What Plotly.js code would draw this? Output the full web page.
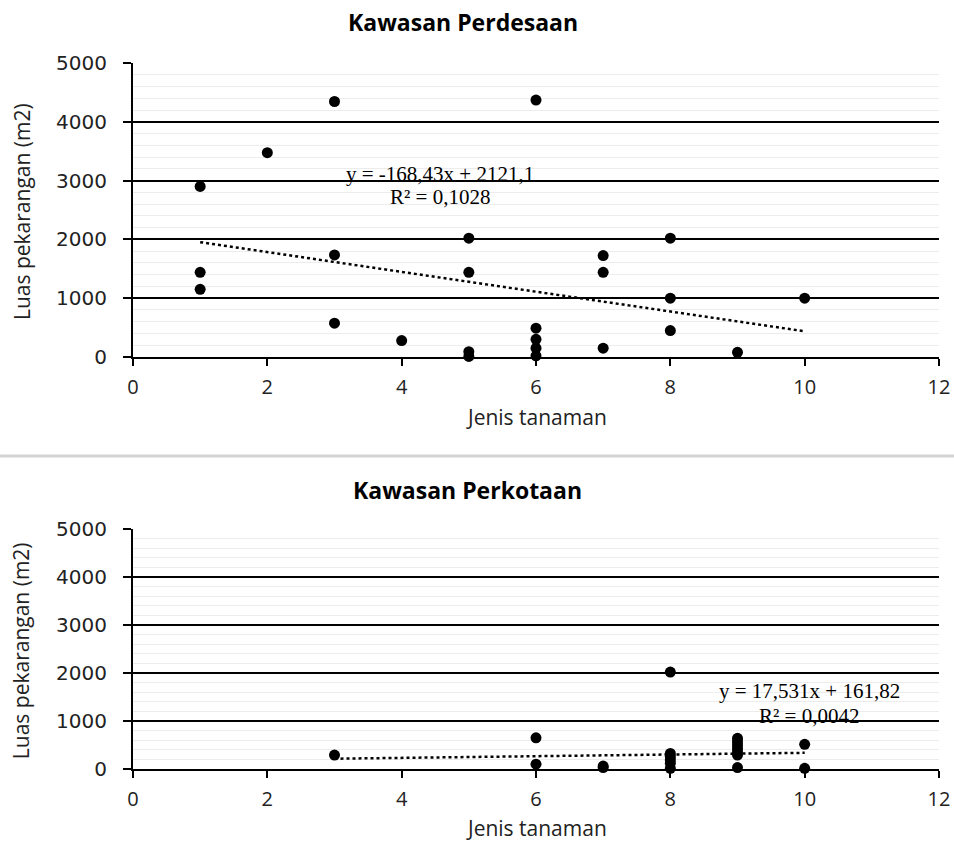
<!DOCTYPE html>
<html>
<head>
<meta charset="utf-8">
<script src="https://cdn.plot.ly/plotly-3.0.1.min.js"></script>
<style>html,body{margin:0;padding:0;background:#fff;}#chart{width:954px;height:844px;}</style>
</head>
<body>
<div id="chart"></div>
<script>
// Kawasan Perdesaan (rural)
const ruralX = [1,1,1,2,3,3,3,4,5,5,5,5,6,6,6,6,6,7,7,7,8,8,8,9,10];
const ruralY = [2900,1440,1150,3475,4345,1735,575,280,2020,1440,90,10,4370,490,300,150,20,1725,1440,150,2020,1000,450,80,1000];
const ruralTrendX = [1, 10];
const ruralCoef = [-168.43, 2121.1];
// Kawasan Perkotaan (urban)
const urbanX = [3,6,6,7,7,8,8,8,8,8,8,9,9,9,9,9,9,9,10,10];
const urbanY = [290,650,100,60,30,2020,325,255,190,120,15,640,570,500,430,360,290,30,515,15];
const urbanTrendX = [3, 10];
const urbanCoef = [17.531, 161.82];

const xTicks = [0,2,4,6,8,10,12];
const yTicks = [0,1000,2000,3000,4000,5000];

const titles = ["Kawasan Perdesaan", "Kawasan Perkotaan"];
const xTitle = "Jenis tanaman";
const yTitle = "Luas pekarangan (m2)";
const eq1 = ["y = -168,43x + 2121,1", "R² = 0,1028"];
const eq2 = ["y = 17,531x + 161,82", "R² = 0,0042"];

const marker = {color: '#000', size: 11, symbol: 'circle'};
const trendStyle = {color: '#000', width: 2.5, dash: 'dot'};

const traces = [
  {x: ruralX, y: ruralY, type: 'scatter', mode: 'markers', marker: marker, xaxis: 'x', yaxis: 'y', cliponaxis: false},
  {x: ruralTrendX, y: ruralTrendX.map(v => ruralCoef[0]*v + ruralCoef[1]), type: 'scatter', mode: 'lines', line: trendStyle, xaxis: 'x', yaxis: 'y'},
  {x: urbanX, y: urbanY, type: 'scatter', mode: 'markers', marker: marker, xaxis: 'x2', yaxis: 'y2', cliponaxis: false},
  {x: urbanTrendX, y: urbanTrendX.map(v => urbanCoef[0]*v + urbanCoef[1]), type: 'scatter', mode: 'lines', line: trendStyle, xaxis: 'x2', yaxis: 'y2'}
];

const xTickFont = {family: '"Open Sans", Lato, sans-serif', size: 20, color: '#222'};
const yTickFont = {family: '"DejaVu Sans", sans-serif', size: 20, color: '#222'};

function xAxis(anchor) {
  return {
    anchor: anchor, range: [0, 12], tickvals: xTicks, ticktext: xTicks.map(String),
    showline: true, linecolor: '#000', linewidth: 2, ticks: 'outside', ticklen: 7, tickwidth: 2, tickcolor: '#000',
    showgrid: false, zeroline: false, tickfont: xTickFont, ticklabelstandoff: 4, fixedrange: true
  };
}
function yAxis(anchor, domain) {
  return {
    anchor: anchor, domain: domain, range: [0, 5000], tickvals: yTicks, ticktext: yTicks.map(String),
    showline: true, linecolor: '#000', linewidth: 2, ticks: 'outside', ticklen: 8, tickwidth: 2, tickcolor: '#000',
    showgrid: true, gridcolor: '#000', gridwidth: 2, zeroline: false, tickfont: yTickFont, ticklabelstandoff: 12,
    minor: {dtick: 200, showgrid: true, gridcolor: '#ececec', gridwidth: 1, ticks: ''}, fixedrange: true
  };
}

const eqFont = {family: '"Liberation Serif", "Times New Roman", serif', size: 21, color: '#000'};
const titleFont = {family: '"Open Sans", Lato, sans-serif', size: 23, color: '#000', weight: 'bold'};
const axTitleFont = {family: '"Open Sans", Lato, sans-serif', size: 21, color: '#222'};

const layout = {
  width: 954, height: 844,
  margin: {l: 133, r: 15, t: 63, b: 75},
  paper_bgcolor: '#fff', plot_bgcolor: '#fff',
  showlegend: false,
  xaxis: xAxis('y'),
  yaxis: yAxis('x', [0.5836, 1]),
  xaxis2: xAxis('y2'),
  yaxis2: yAxis('x2', [0, 0.34]),
  shapes: [
    {type: 'line', xref: 'paper', yref: 'paper', x0: -0.165, x1: 1.019, y0: 0.4433, y1: 0.4433, line: {color: '#d4d4d4', width: 3}}
  ],
  annotations: [
    {text: '<b>' + titles[0] + '</b>', xref: 'paper', yref: 'paper', x: 0.41, y: 1.058, showarrow: false, font: titleFont, xanchor: 'center', yanchor: 'middle'},
    {text: '<b>' + titles[1] + '</b>', xref: 'paper', yref: 'paper', x: 0.415, y: 0.395, showarrow: false, font: titleFont, xanchor: 'center', yanchor: 'middle'},
    {text: xTitle, xref: 'paper', yref: 'paper', x: 0.5, y: 0.4986, showarrow: false, font: axTitleFont, xanchor: 'center', yanchor: 'middle'},
    {text: xTitle, xref: 'paper', yref: 'paper', x: 0.5, y: -0.0836, showarrow: false, font: axTitleFont, xanchor: 'center', yanchor: 'middle'},
    {text: yTitle, xref: 'paper', yref: 'paper', x: -0.138, y: 0.79, textangle: -90, showarrow: false, font: axTitleFont, xanchor: 'center', yanchor: 'middle'},
    {text: yTitle, xref: 'paper', yref: 'paper', x: -0.138, y: 0.168, textangle: -90, showarrow: false, font: axTitleFont, xanchor: 'center', yanchor: 'middle'},
    {text: eq1[0], xref: 'x', yref: 'y', x: 4.57, y: 3110, showarrow: false, font: eqFont, xanchor: 'center', yanchor: 'middle'},
    {text: eq1[1], xref: 'x', yref: 'y', x: 4.57, y: 2720, showarrow: false, font: eqFont, xanchor: 'center', yanchor: 'middle'},
    {text: eq2[0], xref: 'x2', yref: 'y2', x: 10.07, y: 1620, showarrow: false, font: eqFont, xanchor: 'center', yanchor: 'middle'},
    {text: eq2[1], xref: 'x2', yref: 'y2', x: 10.07, y: 1100, showarrow: false, font: eqFont, xanchor: 'center', yanchor: 'middle'}
  ]
};

Plotly.newPlot('chart', traces, layout, {staticPlot: true, displayModeBar: false});
</script>
</body>
</html>
